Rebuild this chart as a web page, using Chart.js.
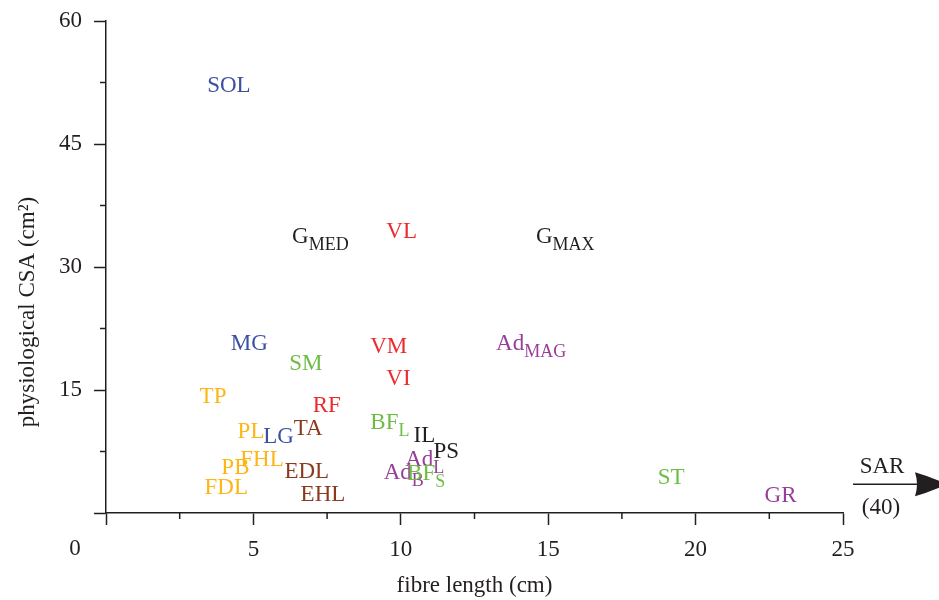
<!DOCTYPE html>
<html><head><meta charset="utf-8">
<script src="https://cdn.jsdelivr.net/npm/chart.js@4/dist/chart.umd.min.js"></script>
<style>html,body{margin:0;padding:0;background:#fff}#wrap{width:939px;height:600px}</style>
</head><body><div id="wrap"><canvas id="c"></canvas></div>
<script>
// ---- data ----
const muscles    = ['SOL','G','VL','G','MG','SM','VM','VI','Ad','TP','RF','PL','LG','TA','BF','IL','PS','FHL','PB','EDL','FDL','EHL','Ad','Ad','BF','ST','GR'];
const subscripts = ['','MED','','MAX','','','','','MAG','','','','','','L','','','','','','','','B','L','S','',''];
const fibreLength      = [4.17,7.27,10.03,15.58,4.86,6.78,9.59,9.92,14.42,3.63,7.49,4.92,5.85,6.86,9.63,10.8,11.54,5.29,4.39,6.81,4.08,7.36,10.1,10.81,10.86,19.17,22.88];
const physiologicalCSA = [52.2,33.9,34.5,33.8,20.85,18.3,20.4,16.5,20.85,14.3,13.2,10.1,9.4,10.4,11.2,9.6,7.6,6.7,5.7,5.2,3.2,2.4,5.1,6.7,5.0,4.5,2.3];
const muscleGroup = ['blue','black','red','black','blue','green','red','red','purple','yellow','red','yellow','blue','brown','green','black','black','yellow','yellow','brown','yellow','brown','purple','purple','green','green','purple'];
const xTickLabels = [0,5,10,15,20,25];
const yTickLabels = [0,15,30,45,60];
const offScaleName = 'SAR';
const offScaleLength = 40;
const offScaleCSA = 3.5;

// ---- styles ----
const groupColors = {blue:'#3b50a2', red:'#ec2b2f', green:'#6dbd45', yellow:'#fdb714', brown:'#8b3b1d', purple:'#963f98', black:'#231f20'};
const INK = '#231f20';
const FONT = '"Liberation Serif","Times New Roman",serif';

const points = fibreLength.map((x,i)=>({x, y: physiologicalCSA[i]}));

const labelPlugin = {
  id:'labels',
  afterDatasetsDraw(chart){
    const {ctx, scales:{x, y}} = chart;
    ctx.save();
    muscles.forEach((m,i)=>{
      const px = x.getPixelForValue(fibreLength[i]);
      const py = y.getPixelForValue(physiologicalCSA[i]);
      ctx.font = '23px ' + FONT;
      const wMain = ctx.measureText(m).width;
      ctx.font = '18px ' + FONT;
      const wSub = subscripts[i] ? ctx.measureText(subscripts[i]).width : 0;
      const left = px - (wMain + wSub)/2;
      const base = py + 7.5;
      ctx.fillStyle = groupColors[muscleGroup[i]];
      ctx.textAlign = 'left'; ctx.textBaseline = 'alphabetic';
      ctx.font = '23px ' + FONT;
      ctx.fillText(m, left, base);
      if (subscripts[i]) {
        ctx.font = '18px ' + FONT;
        ctx.fillText(subscripts[i], left + wMain, base + 7);
      }
    });
    ctx.restore();
  },
  afterDraw(chart){
    const {ctx, scales:{x, y}} = chart;
    ctx.save();
    ctx.strokeStyle = INK; ctx.lineWidth = 1.5;
    // minor ticks
    x.ticks.forEach(t=>{ if (t.value % 5 !== 0){ const p = x.getPixelForValue(t.value); ctx.beginPath(); ctx.moveTo(p, x.top); ctx.lineTo(p, x.top+6); ctx.stroke(); }});
    y.ticks.forEach(t=>{ if (t.value % 5 !== 0){ const p = y.getPixelForValue(t.value); ctx.beginPath(); ctx.moveTo(y.right-6, p); ctx.lineTo(y.right, p); ctx.stroke(); }});
    // origin label
    ctx.fillStyle = INK; ctx.font = '23px ' + FONT; ctx.textAlign='center'; ctx.textBaseline='middle';
    ctx.fillText(String(xTickLabels[0]), x.left - 31, x.top + 36);
    // y title
    ctx.save();
    ctx.translate(28, 312); ctx.rotate(-Math.PI/2);
    ctx.fillText('physiological CSA (cm²)', 0, 0);
    ctx.restore();
    // off-scale arrow
    const ay = y.getPixelForValue(offScaleCSA);
    const x0 = x.right + 10, xb = x.right + 72, tip = x.right + 104;
    ctx.beginPath(); ctx.moveTo(x0, ay); ctx.lineTo(xb+2, ay); ctx.stroke();
    ctx.beginPath();
    ctx.moveTo(tip, ay);
    ctx.quadraticCurveTo(xb+14, ay-8, xb, ay-12);
    ctx.quadraticCurveTo(xb+4, ay, xb, ay+12);
    ctx.quadraticCurveTo(xb+14, ay+8, tip, ay);
    ctx.closePath(); ctx.fill();
    ctx.fillText(offScaleName, x.right + 39, ay - 17);
    ctx.fillText('(' + offScaleLength + ')', x.right + 38, ay + 24);
    ctx.restore();
  }
};

new Chart(document.getElementById('c'), {
  type:'scatter',
  data:{ datasets:[{ data: points, pointRadius:0, pointHoverRadius:0, showLine:false }] },
  options:{
    responsive:true, maintainAspectRatio:false, animation:false,
    layout:{ padding:{ top:21, right:96, left:0, bottom:0 } },
    plugins:{ legend:{display:false}, tooltip:{enabled:false} },
    scales:{
      x:{
        type:'linear', min:0, max:25,
        afterFit(s){ s.height = 87; s.paddingLeft = 0; s.paddingRight = 0; },
        afterBuildTicks(s){ s.ticks = []; for (let v=0; v<=25; v+=2.5) s.ticks.push({value:v}); },
        ticks:{ autoSkip:false, maxRotation:0, padding:11, color:INK, font:{family:FONT, size:23},
          callback:(v)=> (xTickLabels.includes(v) && v !== 0) ? String(v) : '' },
        grid:{ drawOnChartArea:false, drawTicks:true, tickLength:12, tickWidth:1.5,
          tickColor:(c)=> (c.tick && c.tick.value % 5 === 0) ? INK : 'rgba(0,0,0,0)' },
        border:{ display:true, color:INK, width:1.5 },
        title:{ display:true, text:'fibre length (cm)', color:INK, font:{family:FONT, size:23}, padding:{top:0,bottom:0} }
      },
      y:{
        type:'linear', min:0, max:60,
        afterFit(s){ s.width = 106; s.paddingTop = 0; s.paddingBottom = 0; },
        afterBuildTicks(s){ s.ticks = []; for (let v=0; v<=60; v+=7.5) s.ticks.push({value:v}); },
        ticks:{ autoSkip:false, padding:12, color:INK, font:{family:FONT, size:23},
          callback:(v)=> (yTickLabels.includes(v) && v !== 0) ? String(v) : '' },
        grid:{ drawOnChartArea:false, drawTicks:true, tickLength:12, tickWidth:1.5,
          tickColor:(c)=> (c.tick && c.tick.value % 15 === 0) ? INK : 'rgba(0,0,0,0)' },
        border:{ display:true, color:INK, width:1.5 },
        title:{ display:false }
      }
    }
  },
  plugins:[labelPlugin]
});
</script>
</body></html>
